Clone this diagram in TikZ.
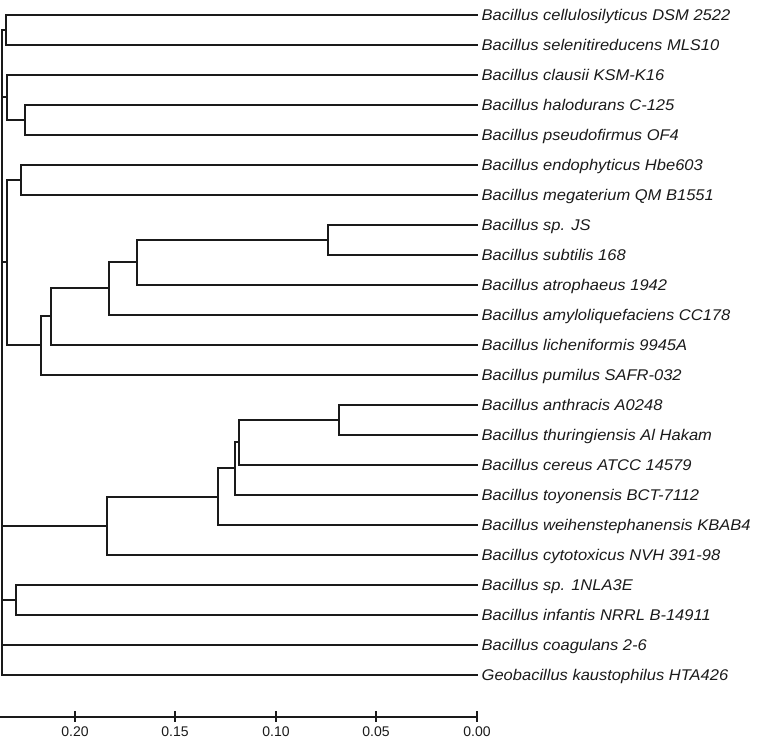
\documentclass[tikz,border=0pt]{standalone}
\usepackage{fontspec}
\setmainfont{Liberation Sans}
\newfontfamily\labfont[FakeStretch=1.065]{Liberation Sans}
\definecolor{ink}{HTML}{1A1A1A}
\begin{document}
\begin{tikzpicture}[x=1pt,y=-1pt,
  br/.style={draw=ink,line width=1.4pt,line cap=rect},
  leaflab/.style={anchor=base west,inner sep=0pt,text=ink,xshift=4.5pt,yshift=-5.4pt,
    font=\labfont\itshape\fontsize{15.5}{18}\selectfont},
  ticklab/.style={anchor=center,inner sep=0pt,text=ink,font=\fontsize{14}{16}\selectfont}]
\useasboundingbox (0,0) rectangle (760,741);
% leaves
\foreach \i/\t in {
 1/{Bacillus cellulosilyticus DSM 2522},
 2/{Bacillus selenitireducens MLS10},
 3/{Bacillus clausii KSM-K16},
 4/{Bacillus halodurans C-125},
 5/{Bacillus pseudofirmus OF4},
 6/{Bacillus endophyticus Hbe603},
 7/{Bacillus megaterium QM B1551},
 8/{Bacillus sp. JS},
 9/{Bacillus subtilis 168},
 10/{Bacillus atrophaeus 1942},
 11/{Bacillus amyloliquefaciens CC178},
 12/{Bacillus licheniformis 9945A},
 13/{Bacillus pumilus SAFR-032},
 14/{Bacillus anthracis A0248},
 15/{Bacillus thuringiensis Al Hakam},
 16/{Bacillus cereus ATCC 14579},
 17/{Bacillus toyonensis BCT-7112},
 18/{Bacillus weihenstephanensis KBAB4},
 19/{Bacillus cytotoxicus NVH 391-98},
 20/{Bacillus sp. 1NLA3E},
 21/{Bacillus infantis NRRL B-14911},
 22/{Bacillus coagulans 2-6},
 23/{Geobacillus kaustophilus HTA426}} {
  \coordinate (l\i) at (477,{15+30*(\i-1)});
  \node[leaflab] (t\i) at (l\i) {\t};
}
% internal nodes
\coordinate (A) at (6,30);
\coordinate (C) at (25,120);
\coordinate (B) at (7,97);
\coordinate (E) at (21,180);
\coordinate (J) at (328,240);
\coordinate (I) at (137,262);
\coordinate (H) at (109,288);
\coordinate (G) at (51,316);
\coordinate (F) at (41,345);
\coordinate (D) at (7,262);
\coordinate (N) at (339,420);
\coordinate (O) at (239,442);
\coordinate (P) at (235,468);
\coordinate (Q) at (218,497);
\coordinate (K) at (107,526);
\coordinate (M) at (16,600);
\coordinate (R) at (2,350);
% clades: parent / first child / last child / children
\foreach \p/\a/\b/\cs in {
  A/l1/l2/{l1,l2},
  C/l4/l5/{l4,l5},
  B/l3/C/{l3,C},
  E/l6/l7/{l6,l7},
  J/l8/l9/{l8,l9},
  I/J/l10/{J,l10},
  H/I/l11/{I,l11},
  G/H/l12/{H,l12},
  F/G/l13/{G,l13},
  D/E/F/{E,F},
  N/l14/l15/{l14,l15},
  O/N/l16/{N,l16},
  P/O/l17/{O,l17},
  Q/P/l18/{P,l18},
  K/Q/l19/{Q,l19},
  M/l20/l21/{l20,l21},
  R/A/l23/{A,B,D,K,M,l22,l23}} {
  \draw[br] (\p |- \a) -- (\p |- \b);
  \foreach \c in \cs { \draw[br] (\p |- \c) -- (\c); }
}
% axis
\coordinate (ax0) at (0,717);
\coordinate (ax1) at (477,717);
\draw[br,line cap=butt] (ax0) -- (ax1);
\foreach \v/\x in {0.20/75,0.15/175,0.10/276,0.05/376,0.00/477} {
  \draw[draw=ink,line width=1.4pt] (\x,711) -- (\x,722);
  \node[ticklab] (tick\x) at (\x,731.5) {\v};
}
\end{tikzpicture}
\end{document}
